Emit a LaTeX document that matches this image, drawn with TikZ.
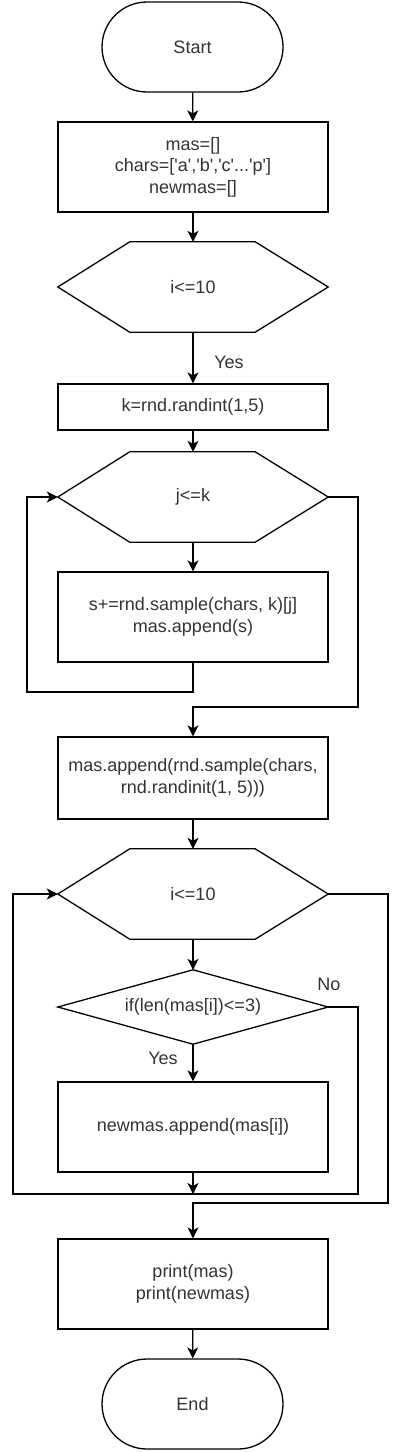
\documentclass[tikz,border=0pt]{standalone}
\usepackage{fontspec}
\setmainfont{Liberation Sans}
\usetikzlibrary{arrows.meta}
\definecolor{txt}{HTML}{333333}
\newcommand{\sq}{\textquotesingle}
\tikzset{
  base/.style={inner sep=0pt, align=center, text=txt, font=\fontsize{18}{21.6}\selectfont},
  procbox/.style={base, draw, line width=1.3pt, minimum width=270pt},
  term/.style={base, draw, line width=1.3pt, minimum width=181pt, minimum height=90pt, rounded corners=45pt},
  ghost/.style={base, minimum width=270pt},
  shp/.style={line width=1.3pt},
  arr/.style={line width=1.3pt, -{Stealth[length=11pt,width=11pt,inset=3pt]}},
  ln/.style={line width=1.3pt},
  lbl/.style={base}
}
\begin{document}
\begin{tikzpicture}[x=1pt,y=-1pt]
\useasboundingbox (0,0) rectangle (402,1452);

\node[term] (start) at (192.5,47) {Start};
\node[procbox, minimum height=90pt] (b1) at (193,167) {mas=[]\\chars=[\sq a\sq,\sq b\sq,\sq c\sq...\sq p\sq]\\newmas=[]};
\node[ghost, minimum height=90pt] (h1) at (193,287) {i<=10};
\node[procbox, minimum height=46pt] (b2) at (193,407) {k=rnd.randint(1,5)};
\node[ghost, minimum height=90pt] (h2) at (193,497) {j<=k};
\node[procbox, minimum height=90pt] (b3) at (193,617) {s+=rnd.sample(chars, k)[j]\\mas.append(s)};
\node[procbox, minimum height=82pt] (b4) at (193,778) {mas.append(rnd.sample(chars,\\rnd.randinit(1, 5)))};
\node[ghost, minimum height=90pt] (h3) at (193,894) {i<=10};
\node[ghost, minimum height=74pt] (d) at (193,1007) {if(len(mas[i])<=3)};
\node[procbox, minimum height=90pt] (b5) at (193,1127) {newmas.append(mas[i])};
\node[procbox, minimum height=90pt] (b6) at (193,1284) {print(mas)\\print(newmas)};
\node[term] (end) at (192.5,1404) {End};

% hexagons
\foreach \h in {h1,h2,h3}{
  \draw[shp] (\h.west) -- ([xshift=72pt]\h.north west) -- ([xshift=-73pt]\h.north east) -- (\h.east)
    -- ([xshift=-73pt]\h.south east) -- ([xshift=72pt]\h.south west) -- cycle;
}
% diamond
\draw[shp] (d.west) -- (d.north) -- (d.east) -- (d.south) -- cycle;

% labels
\node[lbl] (yes1) at (229,362) {Yes};
\node[lbl] (yes2) at (163,1058) {Yes};
\node[lbl] (no) at (329,984) {No};

% coordinates
\coordinate (l1) at (27,692);
\coordinate (r1) at (358,707);
\coordinate (r2) at (358,1194);
\coordinate (l2) at (13,1194);
\coordinate (m2) at (193,1194);
\coordinate (r3) at (388,1203);

% connectors
\draw[arr] (start) -- (b1);
\draw[arr] (b1) -- (h1);
\draw[arr] (h1) -- (b2);
\draw[arr] (b2) -- (h2);
\draw[arr] (h2) -- (b3);
\draw[arr] (b3.south) |- (l1) |- (h2.west);
\draw[arr] (h2.east) -| (r1) -| (b4.north);
\draw[arr] (b4) -- (h3);
\draw[arr] (h3) -- (d);
\draw[arr] (d) -- (b5);
\draw[arr] (d.east) -| (r2) -- (l2) |- (h3.west);
\draw[arr] (b5.south) -- (m2);
\draw[arr] (h3.east) -| (r3) -| (b6.north);
\draw[arr] (b6) -- (end);
\end{tikzpicture}
\end{document}
